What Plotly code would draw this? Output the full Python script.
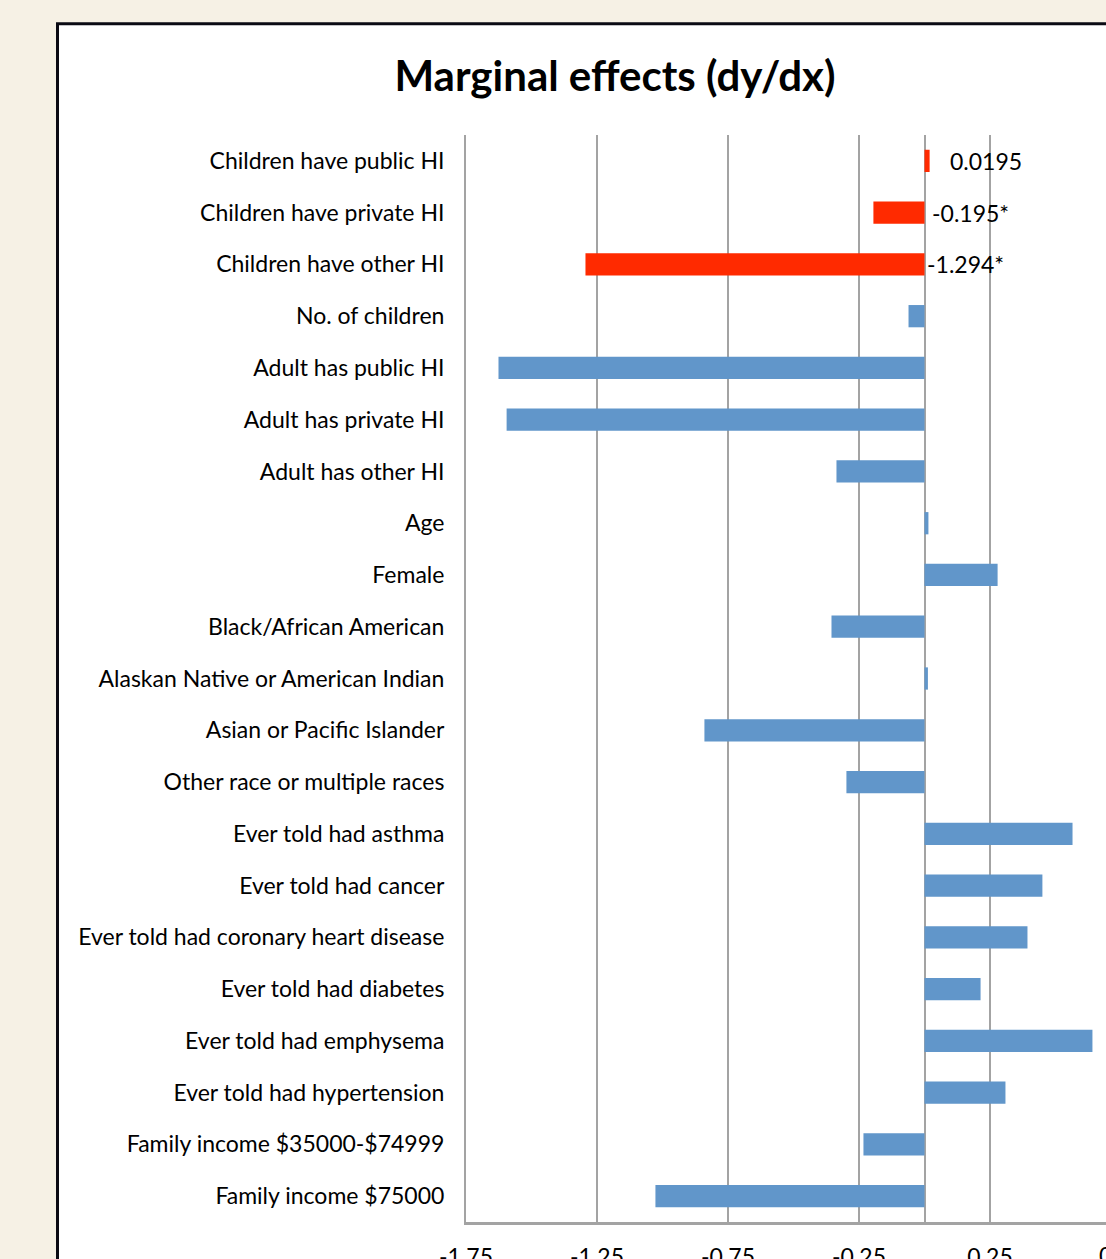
import plotly.graph_objects as go

# Covariates, in display order (top to bottom)
categories = [
    "Children have public HI",
    "Children have private HI",
    "Children have other HI",
    "No. of children",
    "Adult has public HI",
    "Adult has private HI",
    "Adult has other HI",
    "Age",
    "Female",
    "Black/African American",
    "Alaskan Native or American Indian",
    "Asian or Pacific Islander",
    "Other race or multiple races",
    "Ever told had asthma",
    "Ever told had cancer",
    "Ever told had coronary heart disease",
    "Ever told had diabetes",
    "Ever told had emphysema",
    "Ever told had hypertension",
    "Family income $35000-$74999",
    "Family income $75000",
]

# Marginal effects (dy/dx)
effects = [
    0.0195, -0.195, -1.294, -0.061, -1.626, -1.595, -0.336, 0.015, 0.279,
    -0.355, 0.013, -0.840, -0.298, 0.565, 0.450, 0.393, 0.214, 0.641,
    0.309, -0.233, -1.027,
]

# Children's insurance variables are highlighted and labelled
highlighted = ["Children have public HI", "Children have private HI", "Children have other HI"]
significance = {"Children have public HI": "", "Children have private HI": "*",
                "Children have other HI": "*"}

x_ticks = [-1.75, -1.25, -0.75, -0.25, 0.25, 0.75]

RED = "#FF2A00"
BLUE = "#6196CA"
GRID = "#A3A3A3"
FONT = "Lato, 'Liberation Sans', sans-serif"
LABEL_SIZE = 23

colors = [RED if c in highlighted else BLUE for c in categories]

# Figure geometry (pixels)
W, H = 1106, 1259
L, R, T, B = 466, 0, 135, 37
plot_w = W - L - R
plot_h = H - T - B
x_min = -1.75
px_per_unit = 262.0
x_max = x_min + plot_w / px_per_unit

fig = go.Figure()
fig.add_trace(go.Bar(
    x=effects,
    y=categories,
    orientation="h",
    marker=dict(color=colors, line=dict(width=0)),
    hoverinfo="x+y",
    showlegend=False,
))

# Value labels for the highlighted bars
label_shift = {"Children have public HI": 18, "Children have private HI": 5,
               "Children have other HI": 0}
for cat, val in zip(categories, effects):
    if cat in highlighted:
        fig.add_annotation(
            x=max(val, 0), y=cat, xref="x", yref="y",
            text=f"{val:g}{significance[cat]}",
            showarrow=False, xanchor="left", yanchor="middle",
            xshift=label_shift[cat],
            font=dict(family=FONT, size=LABEL_SIZE, color="#000000"),
        )


def px_to_paper_x(px):
    return (px - L) / plot_w


def px_to_paper_y(py):
    return (H - B - py) / plot_h


# White chart panel with dark border
fig.add_shape(
    type="rect", xref="paper", yref="paper", layer="below",
    x0=px_to_paper_x(57.5), x1=px_to_paper_x(W + 40),
    y0=px_to_paper_y(H + 40), y1=px_to_paper_y(23.8),
    fillcolor="#FFFFFF", line=dict(color="#0A0A14", width=3),
)

# Tick label that falls beyond the right edge of the visible axis
fig.add_annotation(
    x=px_to_paper_x(L + (x_ticks[-1] - x_min) * px_per_unit), xref="paper",
    y=px_to_paper_y(H - B + 33), yref="paper",
    text=f"{x_ticks[-1]:.2f}", showarrow=False, xanchor="center", yanchor="middle",
    font=dict(family=FONT, size=LABEL_SIZE, color="#000000"),
)

fig.update_layout(
    width=W, height=H,
    margin=dict(l=L, r=R, t=T, b=B, pad=0, autoexpand=False),
    paper_bgcolor="#F6F1E5",
    plot_bgcolor="rgba(0,0,0,0)",
    bargap=0.57,
    title=dict(
        text="<b>Marginal effects (dy/dx)</b>",
        x=615 / W, xref="container", xanchor="center",
        y=1 - 76 / H, yref="container", yanchor="middle",
        font=dict(family=FONT, size=42, color="#000000"),
    ),
    xaxis=dict(
        range=[x_min, x_max], automargin=False,
        tickmode="array", tickvals=x_ticks, ticktext=[f"{t:.2f}" for t in x_ticks],
        showgrid=True, gridcolor=GRID, gridwidth=2,
        zeroline=True, zerolinecolor=GRID, zerolinewidth=2,
        showline=True, linecolor=GRID, linewidth=3,
        ticks="", ticklabelstandoff=12,
        tickfont=dict(family=FONT, size=LABEL_SIZE, color="#000000"),
        fixedrange=True,
    ),
    yaxis=dict(
        type="category", categoryorder="array", categoryarray=categories,
        autorange="reversed", automargin=False,
        showgrid=False, zeroline=False,
        showline=True, linecolor=GRID, linewidth=2,
        ticks="", ticklabelstandoff=15,
        tickfont=dict(family=FONT, size=LABEL_SIZE, color="#000000"),
        fixedrange=True,
    ),
)

fig.write_html("out.html")
